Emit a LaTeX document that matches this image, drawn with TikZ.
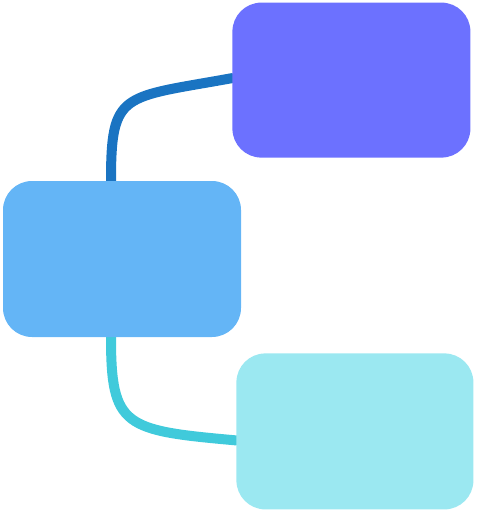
\documentclass[tikz,border=0pt]{standalone}
\usepackage{tikz}
\usetikzlibrary{positioning}
\definecolor{upperfill}{HTML}{6C71FF}
\definecolor{hubfill}{HTML}{64B5F6}
\definecolor{lowerfill}{HTML}{9BE8F1}
\definecolor{upperlink}{HTML}{1A74C2}
\definecolor{lowerlink}{HTML}{40CADB}
\pgfdeclarelayer{background}
\pgfsetlayers{background,main}
\tikzset{
  card/.style={
    rectangle, rounded corners=29pt,
    draw=none, inner sep=0pt,
    minimum width=238pt, minimum height=156pt
  },
  link/.style={line width=10pt, line cap=round}
}

\begin{document}
\begin{tikzpicture}[x=1pt, y=-1pt]

\useasboundingbox (0,0) rectangle (477,512);

% ==============================================================================
% Boxes
% ==============================================================================
\node[card, fill=hubfill] (hub) at (122,259) {};

\node[card, fill=upperfill, minimum height=155pt,
      above right=23pt and -9pt of hub] (upper) {};

\node[card, fill=lowerfill, minimum width=237pt,
      below right=16pt and -5pt of hub] (lower) {};

% ==============================================================================
% Connectors
% ==============================================================================
\begin{pgfonlayer}{background}
\draw[link, upperlink] ([xshift=-11pt]hub.north)
  .. controls +(0,-90) and +(-110,20) .. ([yshift=2pt]upper.west);
\draw[link, lowerlink] ([xshift=-11pt]hub.south)
  .. controls +(0,90) and +(-112,-10) .. ([yshift=-9pt]lower.west);
\end{pgfonlayer}

\end{tikzpicture}
\end{document}
